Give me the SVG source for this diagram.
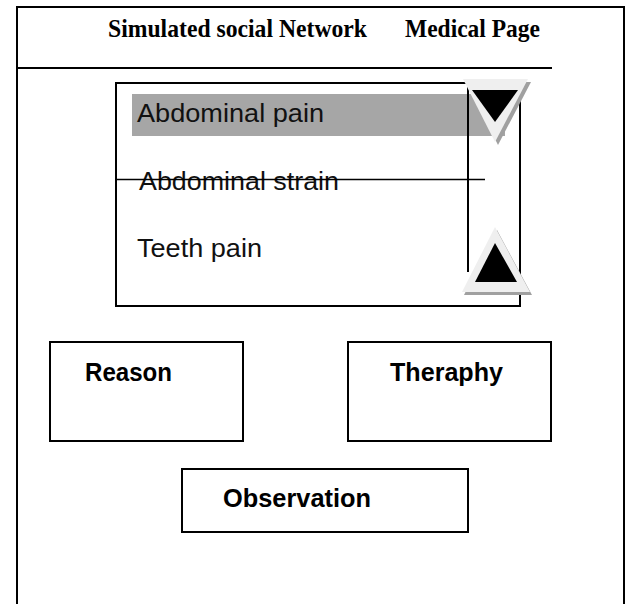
<svg xmlns="http://www.w3.org/2000/svg" width="627" height="604" viewBox="0 0 627 604">
<style>
.ln{fill:none;stroke:#000;stroke-width:2}
.box{fill:#fff;stroke:#000;stroke-width:2}
.title{font-family:"Liberation Serif","Times New Roman",serif;font-weight:bold;font-size:26px;fill:#000}
.item{font-family:"Liberation Sans",Arial,sans-serif;font-size:26px;fill:#111}
.lbl{font-family:"Liberation Sans",Arial,sans-serif;font-weight:bold;font-size:26px;fill:#000}
.shadow{fill:#a0a0a0}
.outer{fill:#efefef}
.inner{fill:#000}
</style>
<rect width="627" height="604" fill="#fff"/>
<g id="page">
<path class="ln" d="M17,604 V7 H624 V604"/>
<line class="ln" x1="17" y1="68" x2="552" y2="68"/>
<text class="title" x="108" y="37" textLength="259" lengthAdjust="spacingAndGlyphs">Simulated social Network</text>
<text class="title" x="405" y="37" textLength="135" lengthAdjust="spacingAndGlyphs">Medical Page</text>
</g>
<g id="listbox">
<rect class="box" x="116" y="83" width="404" height="223"/>
<rect x="132" y="94" width="373" height="42" fill="#a6a6a6"/>
<text class="item" x="137" y="122" textLength="187" lengthAdjust="spacingAndGlyphs">Abdominal pain</text>
<text class="item" x="139" y="190" textLength="200" lengthAdjust="spacingAndGlyphs">Abdominal strain</text>
<line x1="116" y1="179.5" x2="485" y2="179.5" stroke="#000" stroke-width="1.5"/>
<text class="item" x="137" y="257" textLength="125" lengthAdjust="spacingAndGlyphs">Teeth pain</text>
<line x1="468" y1="83" x2="468" y2="272" stroke="#000" stroke-width="2"/>
</g>
<g id="scroll-down">
<polygon class="shadow" points="466,82 531,82 498,145"/>
<polygon class="outer" points="463,79 528,79 495,142"/>
<polygon class="inner" points="472,90 518,90 495,122"/>
</g>
<g id="scroll-up">
<polygon class="shadow" points="497,230 532,295 464,295"/>
<polygon class="outer" points="495,227 530,292 462,292"/>
<polygon class="inner" points="495,243 517,282 475,282"/>
</g>
<g id="reason">
<rect class="box" x="50" y="342" width="193" height="99"/>
<text class="lbl" x="85" y="381" textLength="87" lengthAdjust="spacingAndGlyphs">Reason</text>
</g>
<g id="theraphy">
<rect class="box" x="348" y="342" width="203" height="99"/>
<text class="lbl" x="390" y="381" textLength="113" lengthAdjust="spacingAndGlyphs">Theraphy</text>
</g>
<g id="observation">
<rect class="box" x="182" y="469" width="286" height="63"/>
<text class="lbl" x="223" y="507" textLength="148" lengthAdjust="spacingAndGlyphs">Observation</text>
</g>
<g id="connectors"/>
</svg>
